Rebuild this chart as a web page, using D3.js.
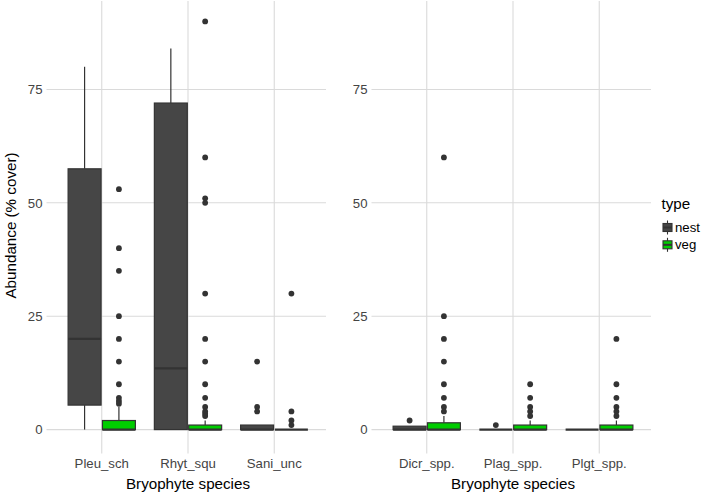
<!DOCTYPE html>
<html>
<head>
<meta charset="utf-8">
<script src="https://cdn.jsdelivr.net/npm/d3@7"></script>
<style>
  html, body { margin: 0; padding: 0; background: #fff; }
  svg { display: block; font-family: "Liberation Sans", Arial, Helvetica, sans-serif; }
</style>
</head>
<body>
<svg id="chart" width="709" height="495"></svg>
<script>
// ---------------- data ----------------
const speciesLeft = ["Pleu_sch", "Rhyt_squ", "Sani_unc"];
const speciesRight = ["Dicr_spp.", "Plag_spp.", "Plgt_spp."];
const types = ["nest", "veg"];
const yTicks = [0, 25, 50, 75];
const xTitle = "Bryophyte species";
const yTitle = "Abundance (% cover)";
const legendTitle = "type";

// box statistics per species (left panel then right panel): [lower whisker, Q1, median, Q3, upper whisker]
const nestStats = [
  [0, 5.4, 20, 57.5, 80],
  [0, 0, 13.5, 72, 84],
  [0, 0, 0, 1, 1],
  [0, 0, 0, 0.75, 0.75],
  [0, 0, 0, 0, 0],
  [0, 0, 0, 0, 0]
];
const vegStats = [
  [0, 0, 0, 2, 5],
  [0, 0, 0, 1, 2],
  [0, 0, 0, 0, 0],
  [0, 0, 0, 1.5, 3],
  [0, 0, 0, 1, 2],
  [0, 0, 0, 1, 2]
];
const nestOutliers = [
  [],
  [],
  [15, 5, 4],
  [2],
  [1],
  []
];
const vegOutliers = [
  [53, 40, 35, 25, 20, 15, 10, 7, 6.3, 5.7],
  [90, 60, 51, 50, 30, 20, 15, 10, 7, 5, 4, 3.5, 3],
  [30, 4, 2, 1],
  [60, 25, 20, 15, 10, 7, 5, 4],
  [10, 7, 5, 4, 3],
  [20, 10, 7, 5, 4, 3]
];

// ---------------- styles ----------------
const fills = { nest: "#464646", veg: "#00cd00" };
const lineCol = "#333333";
const gridCol = "#dadada";
const tickTextCol = "#444444";

const svg = d3.select("#chart");

const panelTop = 1, panelBottom = 450;
const y = d3.scaleLinear().domain([-4.5, 94.5]).range([panelBottom, panelTop]);

const panels = [
  { cats: speciesLeft, x0: 50, x1: 326, offset: 0 },
  { cats: speciesRight, x0: 375, x1: 651, offset: 3 }
];

panels.forEach(p => {
  const x = d3.scalePoint().domain(p.cats).range([p.x0, p.x1]).padding(0.6);
  const step = x.step();
  const dodge = d3.scaleBand().domain(types).range([-0.39 * step, 0.39 * step]).paddingInner(0.04);
  const g = svg.append("g");

  // horizontal grid + y ticks
  g.selectAll("line.hgrid").data(yTicks).join("line")
    .attr("x1", p.x0 - 3.5).attr("x2", p.x1)
    .attr("y1", d => y(d)).attr("y2", d => y(d))
    .attr("stroke", gridCol).attr("stroke-width", 1.1);
  // vertical grid + x ticks
  g.selectAll("line.vgrid").data(p.cats).join("line")
    .attr("x1", d => x(d)).attr("x2", d => x(d))
    .attr("y1", panelTop).attr("y2", panelBottom + 3.5)
    .attr("stroke", gridCol).attr("stroke-width", 1.1);

  // y tick labels
  g.selectAll("text.ytick").data(yTicks).join("text")
    .attr("x", p.x0 - 7.5).attr("y", d => y(d)).attr("dy", "0.36em")
    .attr("text-anchor", "end").attr("font-size", 13.2).attr("fill", tickTextCol)
    .text(d => d);
  // x tick labels
  g.selectAll("text.xtick").data(p.cats).join("text")
    .attr("x", d => x(d)).attr("y", 468)
    .attr("text-anchor", "middle").attr("font-size", 13.2).attr("fill", tickTextCol)
    .text(d => d);
  // x title
  g.append("text")
    .attr("x", (p.x0 + p.x1) / 2).attr("y", 489)
    .attr("text-anchor", "middle").attr("font-size", 15.2).attr("fill", "#000")
    .text(xTitle);

  // boxes
  p.cats.forEach((cat, i) => {
    const idx = p.offset + i;
    types.forEach(t => {
      const s = t === "nest" ? nestStats[idx] : vegStats[idx];
      const outs = t === "nest" ? nestOutliers[idx] : vegOutliers[idx];
      const bx = x(cat) + dodge(t);
      const bw = dodge.bandwidth();
      const cx = bx + bw / 2;
      const bg = g.append("g");
      // whiskers
      bg.append("line").attr("x1", cx).attr("x2", cx)
        .attr("y1", y(s[3])).attr("y2", y(s[4]))
        .attr("stroke", lineCol).attr("stroke-width", 1.2);
      bg.append("line").attr("x1", cx).attr("x2", cx)
        .attr("y1", y(s[1])).attr("y2", y(s[0]))
        .attr("stroke", lineCol).attr("stroke-width", 1.2);
      // box
      bg.append("rect").attr("x", bx).attr("width", bw)
        .attr("y", y(s[3])).attr("height", Math.max(0, y(s[1]) - y(s[3])))
        .attr("fill", fills[t]).attr("stroke", lineCol).attr("stroke-width", 1.2);
      // median
      bg.append("line").attr("x1", bx).attr("x2", bx + bw)
        .attr("y1", y(s[2])).attr("y2", y(s[2]))
        .attr("stroke", lineCol).attr("stroke-width", 2.4);
      // outliers
      bg.selectAll("circle").data(outs).join("circle")
        .attr("cx", cx).attr("cy", d => y(d)).attr("r", 2.9)
        .attr("fill", lineCol);
    });
  });
});

// y title
svg.append("text")
  .attr("transform", `translate(15.5, ${(panelTop + panelBottom) / 2}) rotate(-90)`)
  .attr("text-anchor", "middle").attr("font-size", 15.2).attr("fill", "#000")
  .text(yTitle);

// legend
const lg = svg.append("g");
lg.append("text").attr("x", 661.5).attr("y", 209)
  .attr("font-size", 15.2).attr("fill", "#000").text(legendTitle);
types.forEach((t, i) => {
  const cy = 227.5 + i * 17.3;
  const cx = 667.5;
  lg.append("line").attr("x1", cx).attr("x2", cx).attr("y1", cy - 7).attr("y2", cy + 7)
    .attr("stroke", lineCol).attr("stroke-width", 1.1);
  lg.append("rect").attr("x", cx - 4.5).attr("y", cy - 4).attr("width", 9).attr("height", 8)
    .attr("fill", fills[t]).attr("stroke", lineCol).attr("stroke-width", 1.1);
  lg.append("line").attr("x1", cx - 4.5).attr("x2", cx + 4.5).attr("y1", cy).attr("y2", cy)
    .attr("stroke", lineCol).attr("stroke-width", 2);
  lg.append("text").attr("x", 675).attr("y", cy + 4.5)
    .attr("font-size", 13.2).attr("fill", "#000").text(t);
});
</script>
</body>
</html>
